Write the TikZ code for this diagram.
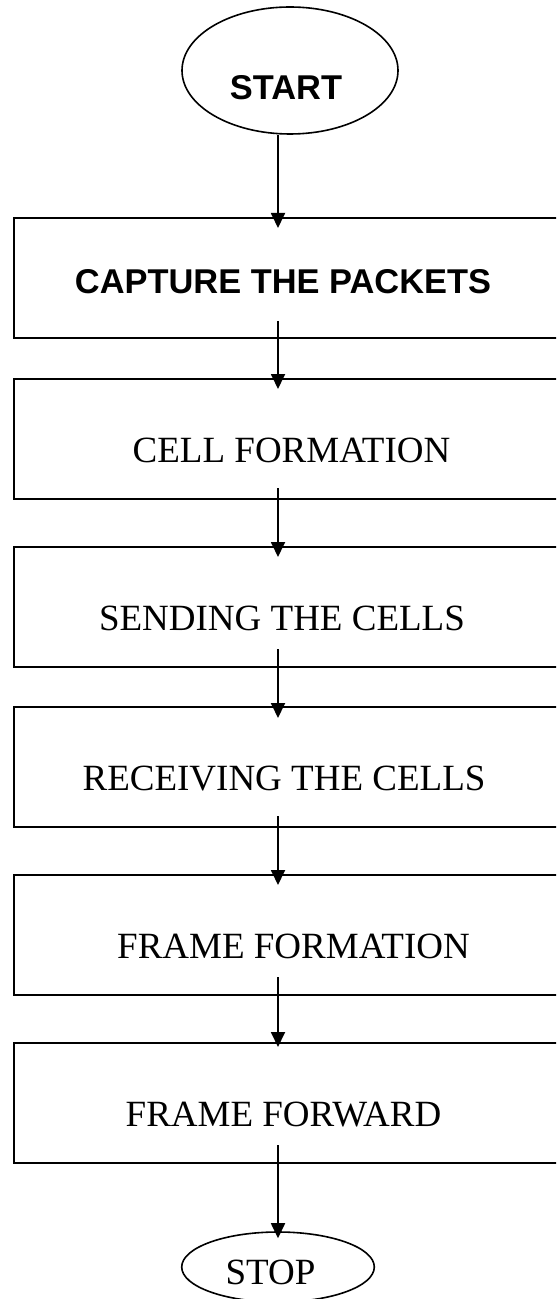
\documentclass[tikz,border=0pt]{standalone}
\usepackage{fontspec}
\setmainfont{Liberation Serif}
\newfontfamily\headsans{Liberation Sans}
\usetikzlibrary{arrows.meta,shapes.geometric}
\begin{document}
\begin{tikzpicture}[x=0.5pt,y=-0.5pt,
  stepbox/.style={draw,line width=1pt,minimum width=274.15pt,minimum height=60pt,inner sep=0pt},
  steplabel/.style={anchor=base,inner sep=0pt,font=\fontsize{18.5}{20}\selectfont},
  boldlabel/.style={anchor=base,inner sep=0pt,font=\headsans\bfseries\fontsize{17.2}{19}\selectfont},
  term/.style={draw,ellipse,line width=0.8pt,inner sep=0pt},
  flow/.style={line width=0.9pt,-{Triangle[length=7.5pt,width=7pt]}}]
\useasboundingbox (0,0) rectangle (556,1299);
\clip (0,0) rectangle (556,1299);

% terminals
\node[term,minimum width=108pt,minimum height=63.5pt] (start) at (290,70.5) {};
\node[boldlabel] (tstart) at (286,100) {START};
\node[term,minimum width=96.3pt,minimum height=35pt] (stop) at (278,1267) {};
\node[steplabel] (tstop) at (270.5,1284) {STOP};

% process steps
\node[stepbox] (b1) at (287.85,278) {};
\node[boldlabel] (t1) at (283,294) {CAPTURE THE PACKETS};
\node[stepbox] (b2) at (287.85,439) {};
\node[steplabel] (t2) at (291.5,462) {CELL FORMATION};
\node[stepbox] (b3) at (287.85,607) {};
\node[steplabel] (t3) at (282,630) {SENDING THE CELLS};
\node[stepbox] (b4) at (287.85,767) {};
\node[steplabel] (t4) at (284,790) {RECEIVING THE CELLS};
\node[stepbox] (b5) at (287.85,935) {};
\node[steplabel] (t5) at (293.5,958) {FRAME FORMATION};
\node[stepbox] (b6) at (287.85,1103) {};
\node[steplabel] (t6) at (283.5,1126) {FRAME FORWARD};

% connectors, all on one vertical line
\coordinate (ax) at (278,0);
\draw[flow] (start.south -| ax) -- ([yshift=-5.5pt]b1.north -| ax);
\draw[flow] ([yshift=9pt]b1.south -| ax) -- ([yshift=-5.5pt]b2.north -| ax);
\draw[flow] ([yshift=6pt]b2.south -| ax) -- ([yshift=-5.5pt]b3.north -| ax);
\draw[flow] ([yshift=9.5pt]b3.south -| ax) -- ([yshift=-6pt]b4.north -| ax);
\draw[flow] ([yshift=6pt]b4.south -| ax) -- ([yshift=-5.5pt]b5.north -| ax);
\draw[flow] ([yshift=9.5pt]b5.south -| ax) -- ([yshift=-2.5pt]b6.north -| ax);
\draw[flow] ([yshift=9.5pt]b6.south -| ax) -- ([yshift=-3.5pt]stop.north -| ax);
\end{tikzpicture}
\end{document}
